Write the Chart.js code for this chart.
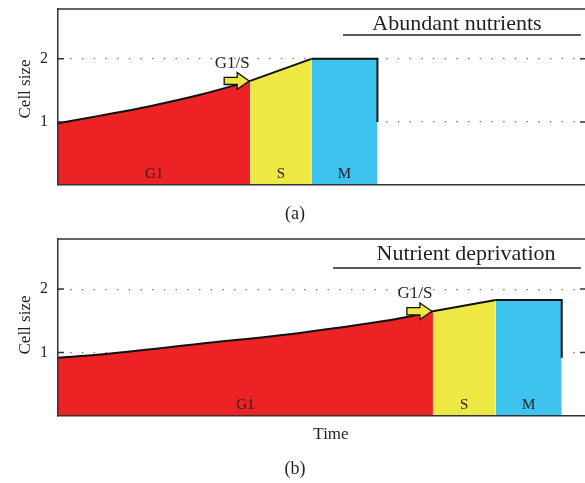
<!DOCTYPE html>
<html>
<head>
<meta charset="utf-8">
<script src="https://cdn.jsdelivr.net/npm/chart.js@4"></script>
<style>
body { margin: 0; background: #fff; overflow: hidden; }
#wrapA { position: absolute; left: 0; top: 0; width: 586px; height: 230px; }
#wrapB { position: absolute; left: 0; top: 230px; width: 586px; height: 253px; }
</style>
</head>
<body>
<div id="wrapA"><canvas id="chartA" width="586" height="230"></canvas></div>
<div id="wrapB"><canvas id="chartB" width="586" height="253"></canvas></div>
<script>
// phases and y ticks
const phases = ['G1', 'S', 'M'];
const sizeTicks = [1, 2];

// (a) abundant nutrients - time (arbitrary units) and cell size
const timeA_G1 = [0, 8.0, 17.4, 26.9, 36.4];
const sizeA_G1 = [0.98, 1.10, 1.25, 1.43, 1.65];
const timeA_S = [36.4, 48.0];
const sizeA_S = [1.65, 2.0];
const timeA_M = [48.0, 60.5, 60.5];
const sizeA_M = [2.0, 2.0, 1.0];

// (b) nutrient deprivation
const timeB_G1 = [0, 8.0, 26.9, 45.8, 64.8, 71.0];
const sizeB_G1 = [0.92, 0.97, 1.14, 1.31, 1.54, 1.65];
const timeB_S = [71.0, 82.9];
const sizeB_S = [1.65, 1.83];
const timeB_M = [82.9, 95.4, 95.4];
const sizeB_M = [1.83, 1.83, 0.92];

const colRed = '#ED2225';
const colYellow = '#EDE843';
const colBlue = '#3DC3EE';
const txt = '#231F20';
const serif = "'Liberation Serif', 'Times New Roman', serif";

function pts(t, s) {
    return t.map((v, i) => ({ x: v, y: s[i] }));
}

// labels, arrow, top border and inward ticks
const cellPlugin = {
    id: 'cellCycle',
    afterDatasetsDraw(chart, args, o) {
        const { ctx, chartArea: a, scales: { x, y } } = chart;
        ctx.save();
        ctx.strokeStyle = '#333';
        ctx.lineWidth = 1.5;
        ctx.beginPath();
        ctx.moveTo(a.left - 0.75, a.top);
        ctx.lineTo(a.right, a.top);
        sizeTicks.forEach(v => {
            const py = y.getPixelForValue(v);
            ctx.moveTo(a.left, py); ctx.lineTo(a.left + 6, py);
            ctx.moveTo(a.right - 6, py); ctx.lineTo(a.right, py);
        });
        ctx.stroke();

        // phase names
        ctx.fillStyle = txt;
        ctx.textAlign = 'center';
        ctx.textBaseline = 'alphabetic';
        ctx.font = '15px ' + serif;
        o.ranges.forEach((r, i) => {
            const cx = (x.getPixelForValue(r[0]) + x.getPixelForValue(r[r.length - 1])) / 2;
            ctx.fillText(phases[i], cx, a.bottom - 7);
        });

        // G1/S arrow
        const tx = x.getPixelForValue(o.tip[0]) - 1;
        const ty = y.getPixelForValue(o.tip[1]);
        ctx.beginPath();
        ctx.moveTo(tx, ty);
        ctx.lineTo(tx - 12, ty - 8.3);
        ctx.lineTo(tx - 12, ty - 3.6);
        ctx.lineTo(tx - 25, ty - 3.6);
        ctx.lineTo(tx - 25, ty + 3.6);
        ctx.lineTo(tx - 12, ty + 3.6);
        ctx.lineTo(tx - 12, ty + 8.3);
        ctx.closePath();
        ctx.fillStyle = colYellow;
        ctx.fill();
        ctx.strokeStyle = '#111';
        ctx.lineWidth = 1.3;
        ctx.stroke();
        ctx.fillStyle = txt;
        ctx.font = '17px ' + serif;
        ctx.fillText('G1/S', tx - 17, ty - 13);

        // condition title with underline
        ctx.font = '22px ' + serif;
        ctx.fillText(o.title, o.titleX, o.titleY);
        ctx.beginPath();
        ctx.lineWidth = 1.5;
        ctx.strokeStyle = '#222';
        ctx.moveTo(o.lineX[0], o.lineY);
        ctx.lineTo(o.lineX[1], o.lineY);
        ctx.stroke();

        // y axis name
        ctx.save();
        ctx.translate(30, o.cellY);
        ctx.rotate(-Math.PI / 2);
        ctx.font = '17px ' + serif;
        ctx.fillText('Cell size', 0, 0);
        ctx.restore();

        if (o.xName) {
            ctx.font = '17px ' + serif;
            ctx.fillText(o.xName, 331, a.bottom + 23);
        }
        ctx.font = '18px ' + serif;
        ctx.fillText(o.panel, 295, o.panelY);
        ctx.restore();
    }
};

function makeChart(id, g1, s, m, xAxisH, pl) {
    return new Chart(document.getElementById(id), {
        type: 'line',
        data: {
            datasets: [
                { data: g1, backgroundColor: colRed, borderColor: '#111', borderWidth: 2, fill: 'origin', cubicInterpolationMode: 'monotone' },
                { data: s, backgroundColor: colYellow, borderColor: '#111', borderWidth: 2, fill: 'origin' },
                { data: m, backgroundColor: colBlue, borderColor: '#111', borderWidth: 2, fill: 'origin' }
            ]
        },
        options: {
            responsive: false,
            animation: false,
            layout: { padding: { top: 9, left: 0, right: 0, bottom: 0 } },
            elements: { point: { radius: 0 } },
            plugins: { legend: { display: false }, tooltip: { enabled: false }, cellCycle: pl },
            scales: {
                x: {
                    type: 'linear', min: 0, max: 100,
                    ticks: { display: false },
                    grid: { display: false },
                    border: { display: true, color: '#333', width: 1.5, z: 1 },
                    afterFit: sc => { sc.height = xAxisH; sc.paddingLeft = 0; sc.paddingRight = 0; }
                },
                y: {
                    min: 0, max: 2.79,
                    afterFit: sc => { sc.width = 58; sc.paddingTop = 0; sc.paddingBottom = 0; },
                    afterBuildTicks: sc => { sc.ticks = sizeTicks.map(v => ({ value: v })); },
                    ticks: { padding: 10, color: txt, font: { family: serif, size: 16 } },
                    grid: { color: '#777', lineWidth: 1.2, drawTicks: false },
                    border: { display: true, color: '#333', width: 1.5, dash: [1.5, 10.2], z: 1 }
                }
            }
        },
        plugins: [cellPlugin]
    });
}

makeChart('chartA', pts(timeA_G1, sizeA_G1), pts(timeA_S, sizeA_S), pts(timeA_M, sizeA_M), 45, {
    ranges: [timeA_G1, timeA_S, timeA_M],
    tip: [timeA_G1[timeA_G1.length - 1], sizeA_G1[sizeA_G1.length - 1]],
    title: 'Abundant nutrients', titleX: 457, titleY: 30, lineX: [343, 581], lineY: 35,
    cellY: 89, panel: '(a)', panelY: 219
});

makeChart('chartB', pts(timeB_G1, sizeB_G1), pts(timeB_S, sizeB_S), pts(timeB_M, sizeB_M), 67, {
    ranges: [timeB_G1, timeB_S, timeB_M],
    tip: [timeB_G1[timeB_G1.length - 1], sizeB_G1[sizeB_G1.length - 1]],
    title: 'Nutrient deprivation', titleX: 466, titleY: 30, lineX: [333, 581], lineY: 38,
    cellY: 95, xName: 'Time', panel: '(b)', panelY: 244
});
</script>
</body>
</html>
